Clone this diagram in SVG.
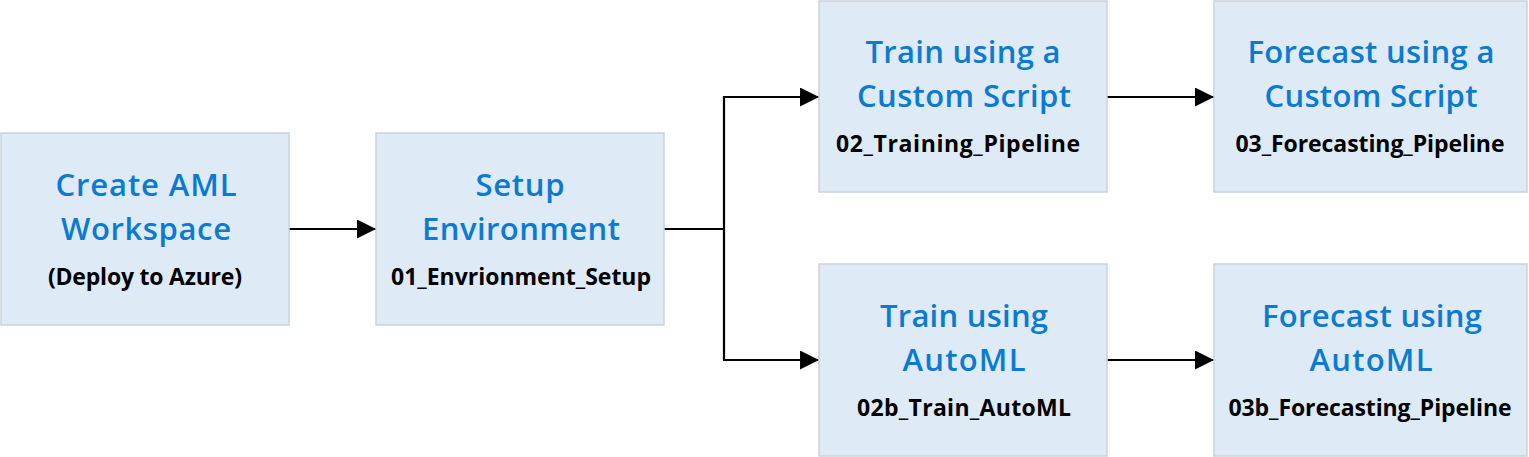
<svg xmlns="http://www.w3.org/2000/svg" width="1529" height="457" viewBox="0 0 1529 457">
<defs>
<style>
.box{fill:#DEEBF7;stroke:#C9D3DC;stroke-width:1.5}
.t{font-family:"Open Sans","Noto Sans",sans-serif;font-weight:600;font-size:31px;fill:#0A7AD3;text-anchor:middle}
.s{font-family:"Open Sans","Noto Sans",sans-serif;font-weight:700;font-size:23px;fill:#000;text-anchor:middle}
.c{fill:none;stroke:#000;stroke-width:2.2}
</style>
<marker id="ah" markerWidth="19" markerHeight="19" refX="19" refY="9.5" orient="auto" markerUnits="userSpaceOnUse">
<path d="M0,0 L19,9.5 L0,19 Z" fill="#000"/>
</marker>
</defs>
<rect width="1529" height="457" fill="#fff"/>
<g id="connectors">
<line class="c" x1="289" y1="229" x2="376" y2="229" marker-end="url(#ah)"/>
<polyline class="c" points="664,229 724,229 724,97 819,97" marker-end="url(#ah)"/>
<polyline class="c" points="724,229 724,360 819,360" marker-end="url(#ah)"/>
<line class="c" x1="1107" y1="97" x2="1214" y2="97" marker-end="url(#ah)"/>
<line class="c" x1="1107" y1="360" x2="1214" y2="360" marker-end="url(#ah)"/>
</g>
<g id="n1">
<rect class="box" x="1" y="133" width="288" height="192"/>
<text class="t" x="146" y="196" textLength="181">Create AML</text>
<text class="t" x="146" y="240" textLength="170">Workspace</text>
<text class="s" x="145" y="285" textLength="194">(Deploy to Azure)</text>
</g>
<g id="n2">
<rect class="box" x="376" y="133" width="288" height="192"/>
<text class="t" x="520" y="196" textLength="89">Setup</text>
<text class="t" x="521" y="240" textLength="198">Environment</text>
<text class="s" x="521" y="285" textLength="260">01_Envrionment_Setup</text>
</g>
<g id="n3">
<rect class="box" x="819" y="1" width="288" height="191"/>
<text class="t" x="963" y="63" textLength="195">Train using a</text>
<text class="t" x="964" y="107" textLength="214">Custom Script</text>
<text class="s" x="958" y="152" textLength="244">02_Training_Pipeline</text>
</g>
<g id="n4">
<rect class="box" x="1214" y="1" width="313" height="191"/>
<text class="t" x="1371" y="63" textLength="247">Forecast using a</text>
<text class="t" x="1371" y="107" textLength="213">Custom Script</text>
<text class="s" x="1370" y="152" textLength="269">03_Forecasting_Pipeline</text>
</g>
<g id="n5">
<rect class="box" x="819" y="264" width="288" height="192"/>
<text class="t" x="964" y="327" textLength="168">Train using</text>
<text class="t" x="964" y="371" textLength="123">AutoML</text>
<text class="s" x="964" y="416" textLength="214">02b_Train_AutoML</text>
</g>
<g id="n6">
<rect class="box" x="1214" y="264" width="313" height="192"/>
<text class="t" x="1372" y="327" textLength="220">Forecast using</text>
<text class="t" x="1371" y="371" textLength="123">AutoML</text>
<text class="s" x="1370" y="416" textLength="283">03b_Forecasting_Pipeline</text>
</g>
</svg>
